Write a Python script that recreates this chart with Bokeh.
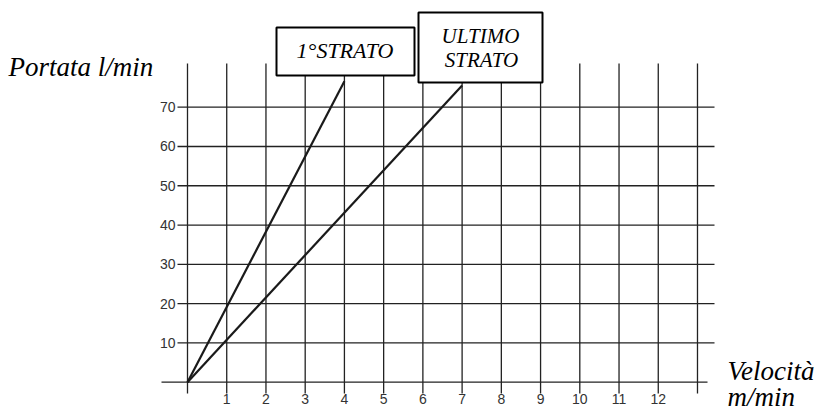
from bokeh.plotting import figure
from bokeh.models import Range1d
from bokeh.embed import file_html
from bokeh.resources import INLINE
from bokeh.core.properties import value

# ---- data ----
x_ticks = [1, 2, 3, 4, 5, 6, 7, 8, 9, 10, 11, 12]
y_ticks = [10, 20, 30, 40, 50, 60, 70]
grid_x = [0, 1, 2, 3, 4, 5, 6, 7, 8, 9, 10, 11, 12, 13]
strato1_x = [0, 4]
strato1_y = [0, 76.6]
ultimo_x = [0, 7]
ultimo_y = [0, 75.5]

# ---- layout: pixel <-> data ----
W, H = 818, 411
X0_PX, SX = 187.0, 39.23     # page px of x=0, px per unit
Y0_PX, SY = 381.7, 3.9286    # page px of y=0, px per unit
BASE_FIX = 8                 # svg alphabetic-baseline correction (px)


def dx(px):
    return (px - X0_PX) / SX


def dy(py):
    return (Y0_PX - py) / SY


def by(py):
    return dy(py - BASE_FIX)


p = figure(width=W, height=H, output_backend="svg", toolbar_location=None,
           x_range=Range1d(dx(0), dx(W)), y_range=Range1d(dy(H), dy(0)),
           min_border=0, min_border_left=0, min_border_right=0,
           min_border_top=0, min_border_bottom=0)
p.axis.visible = False
p.grid.visible = False
p.outline_line_color = None
p.background_fill_color = "white"
p.border_fill_color = "white"

GRID = "#222222"
# vertical grid lines
p.segment(x0=grid_x, y0=[dy(393)] * len(grid_x), x1=grid_x, y1=[dy(63)] * len(grid_x),
          line_color=GRID, line_width=1.3)
# horizontal grid lines
p.segment(x0=[dx(177)] * len(y_ticks), y0=y_ticks, x1=[dx(714)] * len(y_ticks), y1=y_ticks,
          line_color=GRID, line_width=1.3)
# zero line
p.segment(x0=[dx(161)], y0=[0], x1=[dx(707)], y1=[0], line_color=GRID, line_width=1.3)

# data lines
p.line(strato1_x, strato1_y, line_color="#1a1a1a", line_width=2.2)
p.line(ultimo_x, ultimo_y, line_color="#1a1a1a", line_width=2.2)

# tick labels
p.text(x=[dx(175)] * len(y_ticks), y=y_ticks, text=[str(v) for v in y_ticks],
       text_align="right", text_baseline="middle", text_font=value("Liberation Sans"),
       text_font_size="14px", text_color="#333333")
p.text(x=x_ticks, y=[dy(398)] * len(x_ticks), text=[str(v) for v in x_ticks],
       text_align="center", text_baseline="middle", text_font=value("Liberation Sans"),
       text_font_size="14px", text_color="#333333")

# label boxes
p.quad(left=[dx(276)], right=[dx(414)], top=[dy(27)], bottom=[dy(75)],
       fill_color="white", line_color="black", line_width=2)
p.quad(left=[dx(418)], right=[dx(542)], top=[dy(12)], bottom=[dy(82)],
       fill_color="white", line_color="black", line_width=2)

SERIF = value("Liberation Serif")
p.text(x=[dx(344.5)], y=[by(58)], text=["1°STRATO"], text_align="center",
       text_baseline="alphabetic", text_font=SERIF, text_font_style="italic",
       text_font_size="22px", text_color="black")
p.text(x=[dx(480), dx(481)], y=[by(43), by(67)], text=["ULTIMO", "STRATO"], text_align="center",
       text_baseline="alphabetic", text_font=SERIF, text_font_style="italic",
       text_font_size="21px", text_color="black")

# axis titles
p.text(x=[dx(8)], y=[by(74)], text=["Portata l/min"], text_align="left",
       text_baseline="alphabetic", text_font=SERIF, text_font_style="italic",
       text_font_size="27px", text_color="black")
p.text(x=[dx(727), dx(727)], y=[by(378), by(404)], text=["Velocità", "m/min"], text_align="left",
       text_baseline="alphabetic", text_font=SERIF, text_font_style="italic",
       text_font_size="27px", text_color="black")

open("out.html", "w").write(file_html(p, INLINE))
